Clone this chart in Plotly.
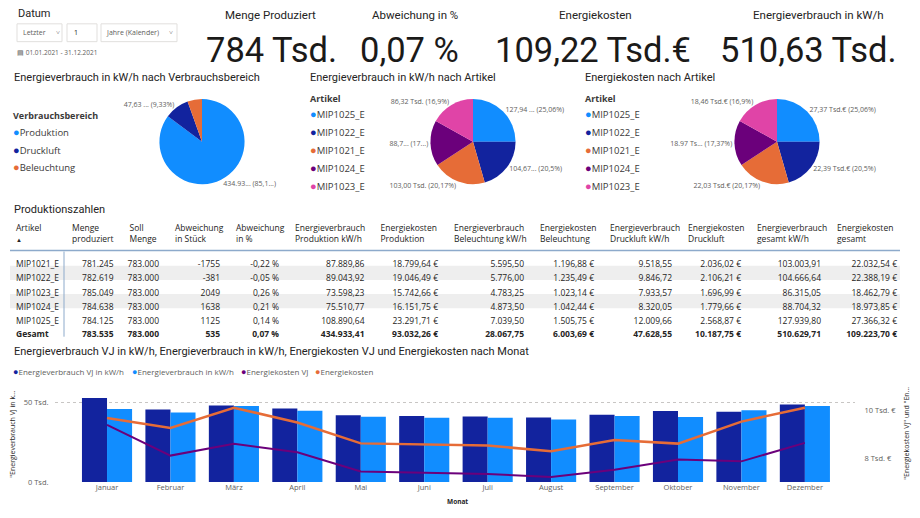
import plotly.graph_objects as go

# Die Seite hat 8px Body-Rand rundum: Figur so verkleinern, dass alles ins 920x518-Fenster passt.
# Alle Positionen unten sind Pixel im Fensterraster.
W, H = 920, 518
RAND = 8
FW, FH = W - 2 * RAND, H - 2 * RAND

# ---- Daten ----
kpi_titel = ["Menge Produziert", "Abweichung in %", "Energiekosten", "Energieverbrauch in kW/h"]
kpi_werte = ["784 Tsd.", "0,07 %", "109,22 Tsd.€", "510,63 Tsd."]

bereiche = ["Produktion", "Druckluft", "Beleuchtung"]
bereich_verbrauch = [434933.41, 47628.55, 28067.75]
bereich_text = ["434.93... (85,1...)", "47,63 ... (9,33%)", ""]

artikel_pie = ["MIP1025_E", "MIP1022_E", "MIP1021_E", "MIP1024_E", "MIP1023_E"]
artikel_verbrauch = [127939.80, 104666.64, 103003.91, 88704.32, 86315.05]
artikel_verbrauch_text = ["127,94 ... (25,06%)", "104,67... (20,5%)", "103,00 Tsd. (20,17%)",
                          "88,7... (17...)", "86,32 Tsd. (16,9%)"]
artikel_kosten = [27366.32, 22388.19, 22032.54, 18973.85, 18462.79]
artikel_kosten_text = ["27,37 Tsd.€ (25,06%)", "22,39 Tsd.€ (20,5%)", "22,03 Tsd.€ (20,17%)",
                       "18.97 Ts... (17,37%)", "18,46 Tsd.€ (16,9%)"]

# Tabelle (letzte Zeile = Gesamt)
tab_artikel = ["MIP1021_E", "MIP1022_E", "MIP1023_E", "MIP1024_E", "MIP1025_E", "Gesamt"]
menge_produziert = [781245, 782619, 785049, 784638, 784125, 783535]
soll_menge = [783000, 783000, 783000, 783000, 783000, 783000]
abw_stueck = [-1755, -381, 2049, 1638, 1125, 535]
abw_prozent = [-0.22, -0.05, 0.26, 0.21, 0.14, 0.07]
ev_produktion = [87889.86, 89043.92, 73598.23, 75510.77, 108890.64, 434933.41]
ek_produktion = [18799.64, 19046.49, 15742.66, 16151.75, 23291.71, 93032.26]
ev_beleuchtung = [5595.50, 5776.00, 4783.25, 4873.50, 7039.50, 28067.75]
ek_beleuchtung = [1196.88, 1235.49, 1023.14, 1042.44, 1505.75, 6003.69]
ev_druckluft = [9518.55, 9846.72, 7933.57, 8320.05, 12009.66, 47628.55]
ek_druckluft = [2036.02, 2106.21, 1696.99, 1779.66, 2568.87, 10187.75]
ev_gesamt = [103003.91, 104666.64, 86315.05, 88704.32, 127939.80, 510629.71]
ek_gesamt = [22032.54, 22388.19, 18462.79, 18973.85, 27366.32, 109223.70]

tab_kopf = ["Artikel<br><span style='font-size:6px'>▲</span>", "Menge<br>produziert", "Soll<br>Menge",
            "Abweichung<br>in Stück", "Abweichung<br>in %", "Energieverbrauch<br>Produktion kW/h",
            "Energiekosten<br>Produktion", "Energieverbrauch<br>Beleuchtung kW/h",
            "Energiekosten<br>Beleuchtung", "Energieverbrauch<br>Druckluft kW/h",
            "Energiekosten<br>Druckluft", "Energieverbrauch<br>gesamt kW/h", "Energiekosten<br>gesamt"]

monate = ["Januar", "Februar", "März", "April", "Mai", "Juni", "Juli", "August",
          "September", "Oktober", "November", "Dezember"]
verbrauch_vj = [52500, 45400, 47900, 46000, 41700, 41300, 41000, 40400, 42100, 44400, 44000, 48400]
verbrauch = [45600, 43500, 47500, 44600, 40800, 40200, 40200, 39000, 41300, 40700, 44800, 47500]
kosten_vj = [9380, 8100, 8590, 8240, 7440, 7390, 7330, 7210, 7510, 7940, 7860, 8630]
kosten = [9670, 9250, 10100, 9480, 8610, 8560, 8520, 8280, 8750, 8600, 9520, 10100]

serien = ["Energieverbrauch VJ in kW/h", "Energieverbrauch in kW/h", "Energiekosten VJ", "Energiekosten"]

# ---- Stil ----
HELLBLAU, DUNKELBLAU, ORANGE, LILA, PINK = "#118DFF", "#12239E", "#E66C37", "#6B007B", "#E044A7"
TITEL_FONT = "Roboto"
UI_FONT = "Open Sans"
TEXT = "#252423"
GRAU = "#605E5C"


def px_x(x):
    return (x - RAND) / FW


def px_y(y):
    return 1 - (y - RAND) / FH


def de(v, d=2):
    s = f"{v:,.{d}f}"
    return s.replace(",", "X").replace(".", ",").replace("X", ".")


annotations = []
shapes = []


def text(t, x, y, size, color=TEXT, family=UI_FONT, xanchor="left", yanchor="middle", angle=0):
    annotations.append(dict(text=t, x=px_x(x), y=px_y(y), xref="paper", yref="paper",
                            xanchor=xanchor, yanchor=yanchor, showarrow=False, textangle=angle,
                            font=dict(size=size, color=color, family=family)))


def punkt(farbe, groesse):
    return f"<span style='color:{farbe};font-size:{groesse}px'>●</span>"


fig = go.Figure()

# ---- Datum-Slicer ----
text("Datum", 16, 14, 11, family=TITEL_FONT)
for x0, x1 in [(17, 62), (67, 97), (101, 177)]:
    shapes.append(dict(type="rect", xref="paper", yref="paper", x0=px_x(x0), x1=px_x(x1),
                       y0=px_y(42), y1=px_y(24), line=dict(color="#E1DFDD", width=1)))
text("Letzter", 21, 33, 7, GRAU)
text("˅", 54, 33, 7, GRAU)
text("1", 72, 33, 7, TEXT)
text("Jahre (Kalender)", 104, 33, 7, GRAU)
text("˅", 167, 33, 7, GRAU)
text("▤ 01.01.2021 - 31.12.2021", 15, 53, 6.5, GRAU)

# ---- KPI-Karten ----
for t, xc in zip(kpi_titel, [270, 415, 595, 818]):
    text(t, xc, 15, 11.5, family=TITEL_FONT, xanchor="center")
for t, xc in zip(kpi_werte, [271, 409, 593, 808]):
    text(t, xc, 50, 34.5, color="#1B1A19", family=TITEL_FONT, xanchor="center")


# ---- Kreisdiagramme ----
def pie(labels, values, txt, colors, cx, cy=143, r=43):
    fig.add_trace(go.Pie(
        labels=labels, values=values, text=txt, textinfo="text", textposition="outside",
        sort=False, direction="clockwise",
        marker=dict(colors=colors, line=dict(width=0)),
        outsidetextfont=dict(size=7, color=GRAU, family=UI_FONT),
        domain=dict(x=[px_x(cx - r), px_x(cx + r)], y=[px_y(cy + r), px_y(cy - r)]),
        showlegend=False,
    ))


def legende(titel, labels, colors, x, y0):
    text(f"<b>{titel}</b>", x, y0, 9, color="#3B3A39")
    for i, (lab, col) in enumerate(zip(labels, colors)):
        text(punkt(col, 11) + lab, x, y0 + 15.5 + i * 18, 9.5, color="#3B3A39")


text("Energieverbrauch in kW/h nach Verbrauchsbereich", 12, 78, 11, family=TITEL_FONT)
pie(bereiche, bereich_verbrauch, bereich_text, [HELLBLAU, DUNKELBLAU, ORANGE], 202)
legende("Verbrauchsbereich", bereiche, [HELLBLAU, DUNKELBLAU, ORANGE], 11, 117)

farben_artikel = [HELLBLAU, DUNKELBLAU, ORANGE, LILA, PINK]
text("Energieverbrauch in kW/h nach Artikel", 308, 78, 11, family=TITEL_FONT)
pie(artikel_pie, artikel_verbrauch, artikel_verbrauch_text, farben_artikel, 473)
legende("Artikel", artikel_pie, farben_artikel, 308, 99.5)

text("Energiekosten nach Artikel", 583, 78, 11, family=TITEL_FONT)
pie(artikel_pie, artikel_kosten, artikel_kosten_text, farben_artikel, 777)
legende("Artikel", artikel_pie, farben_artikel, 583, 99.5)

# ---- Tabelle ----
text("Produktionszahlen", 12, 212, 11, family=TITEL_FONT)

spalten = [
    tab_artikel,
    [de(v, 0) for v in menge_produziert],
    [de(v, 0) for v in soll_menge],
    [str(v) for v in abw_stueck],
    [de(v, 2) + " %" for v in abw_prozent],
    [de(v) for v in ev_produktion],
    [de(v) + " €" for v in ek_produktion],
    [de(v) for v in ev_beleuchtung],
    [de(v) + " €" for v in ek_beleuchtung],
    [de(v) for v in ev_druckluft],
    [de(v) + " €" for v in ek_druckluft],
    [de(v) for v in ev_gesamt],
    [de(v) + " €" for v in ek_gesamt],
]
# geschützte Leerzeichen, damit die Tabelle nicht umbricht und die Zeilen nicht wachsen
zellen = [[s.replace(" ", "\u00a0") for s in sp] for sp in spalten]
daten_zeilen = [sp[:-1] for sp in zellen]
gesamt_zeile = [sp[-1] for sp in zellen]

# Zebra-Streifen und Linien
zeile_h = 14.33
for i in (1, 3):
    shapes.append(dict(type="rect", xref="paper", yref="paper", layer="below",
                       x0=px_x(10), x1=px_x(900), y0=px_y(254 + (i + 1) * zeile_h),
                       y1=px_y(254 + i * zeile_h), fillcolor="#EEEEEE", line=dict(width=0)))
shapes.append(dict(type="line", xref="paper", yref="paper", x0=px_x(10), x1=px_x(900),
                   y0=px_y(253), y1=px_y(253), line=dict(color="#8DAACB", width=1.5)))
shapes.append(dict(type="line", xref="paper", yref="paper", x0=px_x(64), x1=px_x(64),
                   y0=px_y(254), y1=px_y(340), line=dict(color="#8DAACB", width=1)))

transparent = "rgba(0,0,0,0)"
spaltenbreiten = [56, 57.5, 45.5, 61, 59, 85.5, 73.5, 86, 70, 78, 69, 80, 76]
ausrichtung = ["left"] + ["right"] * 12
tab_font = dict(family=UI_FONT, size=8.5, color=TEXT)
fig.add_trace(go.Table(
    domain=dict(x=[px_x(8), px_x(905)], y=[px_y(335), px_y(216.5)]),
    columnwidth=spaltenbreiten,
    header=dict(values=tab_kopf, align="left", height=30, font=tab_font,
                fill_color=transparent, line=dict(width=0, color=transparent)),
    cells=dict(values=daten_zeilen, align=ausrichtung, height=zeile_h, font=tab_font,
               fill_color=transparent, line=dict(width=0, color=transparent)),
))
# Gesamtzeile fett: eigene Tabelle, deren Kopfzeile die Summen trägt
fig.add_trace(go.Table(
    domain=dict(x=[px_x(8), px_x(905)], y=[px_y(343), px_y(325.5)]),
    columnwidth=spaltenbreiten,
    header=dict(values=gesamt_zeile, align=ausrichtung, height=zeile_h,
                font=dict(tab_font, weight=700),
                fill_color=transparent, line=dict(width=0, color=transparent)),
    cells=dict(values=[], fill_color=transparent, line=dict(width=0, color=transparent)),
))

# ---- Kombi-Diagramm nach Monat ----
text("Energieverbrauch VJ in kW/h, Energieverbrauch in kW/h, Energiekosten VJ und Energiekosten nach Monat",
     12, 355, 11, family=TITEL_FONT)
x_leg = [11, 130, 239, 313]
for lab, col, xl in zip(serien, [DUNKELBLAU, HELLBLAU, LILA, ORANGE], x_leg):
    text(punkt(col, 9) + lab, xl, 375, 8, GRAU)

fig.add_trace(go.Bar(x=monate, y=verbrauch_vj, name=serien[0], marker=dict(color=DUNKELBLAU, line=dict(width=0))))
fig.add_trace(go.Bar(x=monate, y=verbrauch, name=serien[1], marker=dict(color=HELLBLAU, line=dict(width=0))))
fig.add_trace(go.Scatter(x=monate, y=kosten_vj, name=serien[2], mode="lines", yaxis="y2",
                         line=dict(color=LILA, width=2)))
fig.add_trace(go.Scatter(x=monate, y=kosten, name=serien[3], mode="lines", yaxis="y2",
                         line=dict(color=ORANGE, width=2.5)))

text('"Energieverbrauch VJ in k...', 13, 439, 7, TEXT, xanchor="center", angle=-90)
text('"Energiekosten VJ" und "En...', 907, 438, 7, TEXT, xanchor="center", angle=-90)
text("<b>Monat</b>", 457, 506, 6.5, TEXT, xanchor="center")

achsen_font = dict(family=UI_FONT, size=7.5, color=GRAU)
fig.update_layout(
    width=FW, height=FH,
    margin=dict(l=0, r=0, t=0, b=0),
    paper_bgcolor="white", plot_bgcolor="white",
    showlegend=False,
    barmode="group", bargap=0.21, bargroupgap=0,
    xaxis=dict(domain=[px_x(55), px_x(855)], range=[-0.82, 11.79], tickfont=achsen_font,
               showgrid=False, showline=False, zeroline=False, ticks="", fixedrange=True),
    yaxis=dict(domain=[px_y(486.7), px_y(396)], range=[0, 56200], tickvals=[0, 50000],
               ticktext=["0 Tsd.", "50 Tsd."], tickfont=achsen_font, showgrid=True,
               gridcolor="#C8C6C4", griddash="dot", gridwidth=1, zeroline=False,
               ticks="outside", ticklen=4, tickcolor="white"),
    yaxis2=dict(overlaying="y", side="right", range=[7000, 10750], tickvals=[8000, 10000],
                ticktext=["8 Tsd. €", "10 Tsd. €"], tickfont=achsen_font, showgrid=False,
                zeroline=False, ticks="outside", ticklen=7, tickcolor="white"),
    annotations=annotations,
    shapes=shapes,
)

fig.write_html("out.html")
